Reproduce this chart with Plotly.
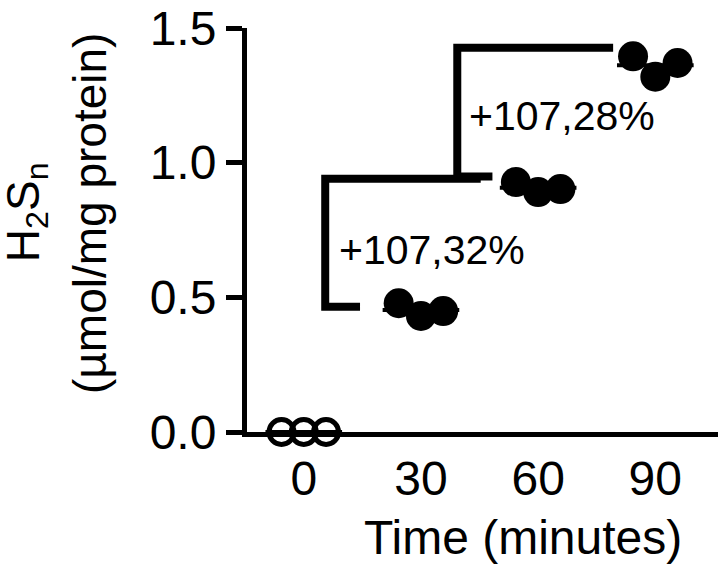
import plotly.graph_objects as go

# ---- data ----
time_labels = ["0", "30", "60", "90"]
group_pos = [0, 1, 2, 3]
jitter = [-0.19, 0.0, 0.19]
values_0 = [0.0, 0.0, 0.0]
values_30 = [0.478, 0.431, 0.449]
values_60 = [0.928, 0.891, 0.902]
values_90 = [1.395, 1.319, 1.370]
y_ticks = [0.0, 0.5, 1.0, 1.5]
y_ticktext = ["0.0", "0.5", "1.0", "1.5"]

# comparison brackets (x in category units, y in data units)
bracket1_x = [0.48, 0.183, 0.183, 1.51]
bracket1_y = [0.465, 0.465, 0.94, 0.94]
bracket2_x = [1.61, 1.31, 1.31, 2.64]
bracket2_y = [0.949, 0.949, 1.427, 1.427]
bracket_labels = ["+107,32%", "+107,28%"]
label_x = [0.28, 1.39]
label_y = [0.674, 1.174]

FONT = "Arial, 'Liberation Sans', sans-serif"

fig = go.Figure()

groups = [values_0, values_30, values_60, values_90]
half = 0.327
# mean lines
for g, vals in zip(group_pos, groups):
    m = sum(vals) / len(vals)
    fig.add_trace(go.Scatter(x=[g - half, g + half], y=[m, m], mode="lines",
                             line=dict(color="black", width=4),
                             hoverinfo="skip", showlegend=False, cliponaxis=False))

# brackets
for bx, by in [(bracket1_x, bracket1_y), (bracket2_x, bracket2_y)]:
    fig.add_trace(go.Scatter(x=bx, y=by, mode="lines",
                             line=dict(color="black", width=8),
                             hoverinfo="skip", showlegend=False, cliponaxis=False))

# points
for g, vals in zip(group_pos, groups):
    xs = [g + j for j in jitter]
    if g == 0:
        marker = dict(symbol="circle-open", size=25, color="black",
                      line=dict(width=5, color="black"))
    else:
        marker = dict(symbol="circle", size=30, color="black",
                      line=dict(width=0))
    fig.add_trace(go.Scatter(x=xs, y=vals, mode="markers", marker=marker,
                             showlegend=False, cliponaxis=False))

for t, x, y in zip(bracket_labels, label_x, label_y):
    fig.add_annotation(x=x, y=y, text=t, showarrow=False, xanchor="left",
                       yanchor="middle", font=dict(size=41, color="black", family=FONT))

# y-axis title as two rotated lines
fig.add_annotation(xref="paper", yref="paper", x=-0.46, y=0.545, xshift=-4,
                   text="H<sub>2</sub>S<sub>n</sub>", textangle=-90, showarrow=False,
                   xanchor="center", yanchor="middle",
                   font=dict(size=46, color="black", family=FONT))
fig.add_annotation(xref="paper", yref="paper", x=-0.313, y=0.541, xshift=-9,
                   text="(µmol/mg protein)", textangle=-90, showarrow=False,
                   xanchor="center", yanchor="middle",
                   font=dict(size=46, color="black", family=FONT))
# x-axis title
fig.add_annotation(xref="paper", yref="paper", x=0.585, y=0, yshift=-105,
                   text="Time (minutes)", showarrow=False,
                   xanchor="center", yanchor="middle",
                   font=dict(size=48, color="black", family=FONT))

fig.update_layout(
    width=720, height=568,
    margin=dict(l=247, r=2, t=18, b=136),
    paper_bgcolor="white", plot_bgcolor="white",
    font=dict(family=FONT, color="black", size=48),
)
fig.update_xaxes(range=[-0.4845, 3.535], tickvals=group_pos, ticktext=time_labels,
                 showline=True, linecolor="black", linewidth=5, ticks="",
                 showgrid=False, zeroline=False, tickfont=dict(size=48))
fig.update_yaxes(range=[0, 1.5], tickvals=y_ticks, ticktext=y_ticktext,
                 showline=True, linecolor="black", linewidth=5,
                 ticks="outside", ticklen=16, tickwidth=5, tickcolor="black",
                 ticklabeloverflow="allow",
                 showgrid=False, zeroline=False, tickfont=dict(size=48))

fig.write_html("out.html", config={"displayModeBar": False},
               post_script="document.body.style.margin='0';document.body.style.overflow='hidden';")
